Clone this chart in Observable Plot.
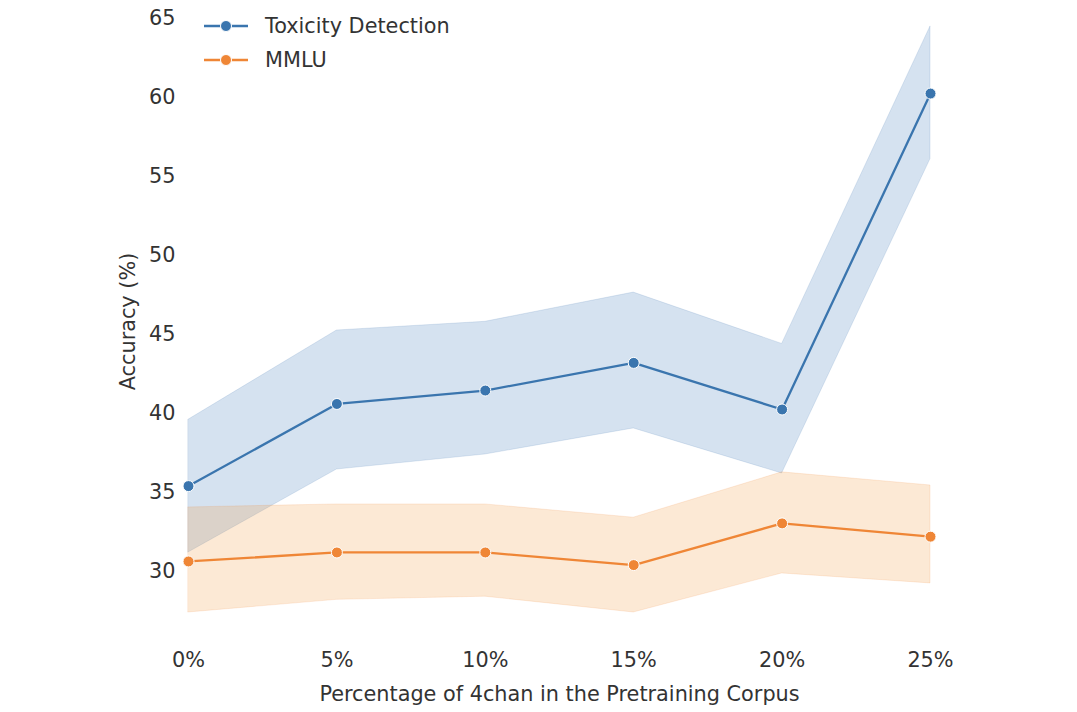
<!DOCTYPE html>
<html>
<head>
<meta charset="utf-8">
<script src="https://cdn.jsdelivr.net/npm/d3@7"></script>
<script src="https://cdn.jsdelivr.net/npm/@observablehq/plot@0.6"></script>
<style>
  html, body { margin: 0; padding: 0; background: #fff; }
  #wrap { position: relative; width: 1077px; height: 712px; font-family: "DejaVu Sans", sans-serif; }
  #legend { position: absolute; left: 203px; top: 9px; color: #333; font-size: 20.8px; }
  #legend .row { display: flex; align-items: center; height: 34px; }
  #legend svg { margin-right: 16px; }
</style>
</head>
<body>
<div id="wrap"><div id="chart"></div><div id="legend"></div></div>
<script>
const pct = [0, 5, 10, 15, 20, 25];
const tickLabels = ["0%", "5%", "10%", "15%", "20%", "25%"];
const seriesNames = ["Toxicity Detection", "MMLU"];
const colors = ["#3a75ae", "#ef8636"];

const toxMean = [35.4, 40.6, 41.45, 43.2, 40.25, 60.25];
const toxLow  = [31.2, 36.45, 37.4, 39.05, 36.2, 56.1];
const toxHigh = [39.6, 45.25, 45.8, 47.65, 44.4, 64.5];

const mmluMean = [30.63, 31.2, 31.2, 30.4, 33.04, 32.2];
const mmluLow  = [27.4, 28.2, 28.4, 27.4, 29.87, 29.24];
const mmluHigh = [34.05, 34.24, 34.24, 33.4, 36.27, 35.44];

const yTicks = [30, 35, 40, 45, 50, 55, 60, 65];

function rows(name, mean, lo, hi) {
  return pct.map((x, i) => ({series: name, x, y: mean[i], lo: lo[i], hi: hi[i]}));
}
const tox = rows(seriesNames[0], toxMean, toxLow, toxHigh);
const mmlu = rows(seriesNames[1], mmluMean, mmluLow, mmluHigh);

const chart = Plot.plot({
  width: 1077,
  height: 712,
  marginLeft: 188,
  marginRight: 147,
  marginTop: 0,
  marginBottom: 70,
  style: {fontFamily: "DejaVu Sans, sans-serif", fontSize: "20.8px", color: "#333", background: "#fff"},
  x: {domain: [0, 25]},
  y: {domain: [25.5, 66.14]},
  marks: [
    Plot.areaY(tox, {x: "x", y1: "lo", y2: "hi", fill: "#4a80c0", fillOpacity: 0.23, stroke: colors[0], strokeOpacity: 0.15}),
    Plot.areaY(mmlu, {x: "x", y1: "lo", y2: "hi", fill: "#f39a40", fillOpacity: 0.22, stroke: colors[1], strokeOpacity: 0.15}),
    Plot.line(tox, {x: "x", y: "y", stroke: colors[0], strokeWidth: 2.3}),
    Plot.line(mmlu, {x: "x", y: "y", stroke: colors[1], strokeWidth: 2.3}),
    Plot.dot(tox, {x: "x", y: "y", r: 5.5, fill: colors[0], stroke: "#fff", strokeWidth: 1}),
    Plot.dot(mmlu, {x: "x", y: "y", r: 5.5, fill: colors[1], stroke: "#fff", strokeWidth: 1}),
    Plot.axisY({ticks: yTicks, tickSize: 0, tickPadding: 13, fontSize: 20.8,
      label: "Accuracy (%)", labelAnchor: "center", labelArrow: "none", labelOffset: 68}),
    Plot.axisX({ticks: pct, tickFormat: (d) => tickLabels[pct.indexOf(d)], tickSize: 0, tickPadding: 10, fontSize: 20.8,
      label: "Percentage of 4chan in the Pretraining Corpus", labelAnchor: "center", labelArrow: "none", labelOffset: 58})
  ]
});
document.getElementById("chart").appendChild(chart);

const legend = document.getElementById("legend");
seriesNames.forEach((name, i) => {
  const row = document.createElement("div");
  row.className = "row";
  row.innerHTML = `<svg width="46" height="14"><line x1="1" y1="7" x2="45" y2="7" stroke="${colors[i]}" stroke-width="2.3"/><circle cx="23" cy="7" r="5.5" fill="${colors[i]}" stroke="#fff" stroke-width="1"/></svg><span>${name}</span>`;
  legend.appendChild(row);
});
</script>
</body>
</html>
